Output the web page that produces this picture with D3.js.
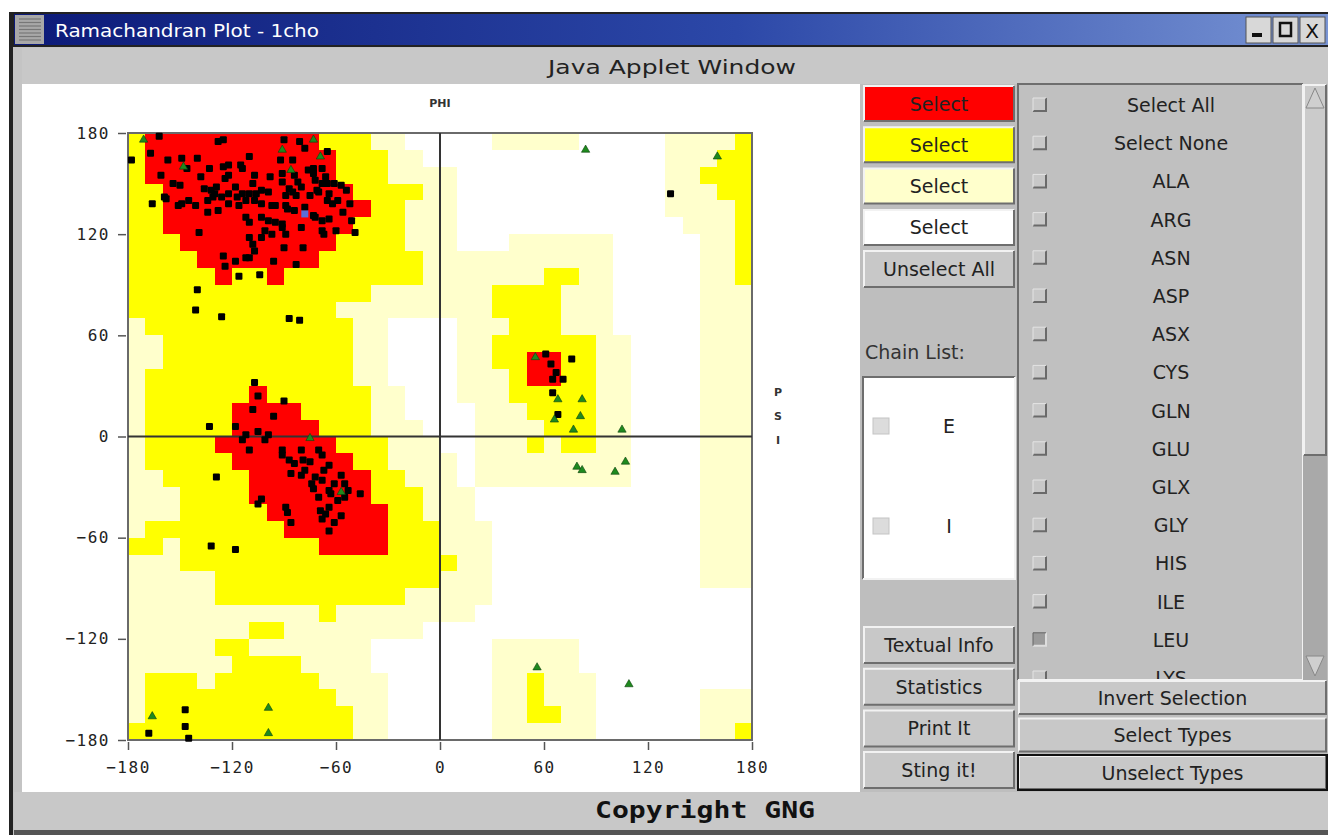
<!DOCTYPE html>
<html>
<head>
<meta charset="utf-8">
<script src="https://cdn.jsdelivr.net/npm/d3@7"></script>
<style>
  body { margin: 0; background: #fff; overflow: hidden; }
  svg { display: block; }
  text { font-family: 'DejaVu Sans', sans-serif; }
</style>
</head>
<body>
<div id="chart"></div>
<script>
// Region map, 10 degree cells. One string per psi row (180 -> -180), one char per phi column (-180 -> 180)
// R = core, Y = allowed, P = generous, W = disallowed
const regionRows = [
  'YRRRRRRRRRRYYYPPWW' + 'WWWPPPPPWWWWWPPPPY',
  'YRRRRRRRRRRRYYYPPW' + 'WWWWWWWWWWWWWPPPYY',
  'YRRRRRRRRRRRYYYPPP' + 'PWWWWWWWWWWWWPPYYY',
  'YYRRRRRRRRRRRYYYYP' + 'PWWWWWWWWWWWWPPPYY',
  'YYRRRRRRRRRRRRYYPP' + 'PWWWWWWWWWWWWPPPPY',
  'YYRRRRRRRRRRRYYYPP' + 'PWWWWWWWWWWWWWPPPY',
  'YYYRRRRRRRRRYYYYPP' + 'PWWWPPPPPPWWWWWPPY',
  'YYYYRRRRRRRYYYYYYP' + 'PPPPPPPPPPWWWWWPPY',
  'YYYYYRYYRYYYYYYYYP' + 'PPPPPPYYPPWWWWWPPY',
  'YYYYYYYYYYYYYYPPPP' + 'PPPYYYYPPPWWWWWPPP',
  'YYYYYYYYYYYYPPPPPP' + 'PPPYYYYPPPWWWWWPPP',
  'PYYYYYYYYYYYYPPWWW' + 'WPPPYYYPPPWWWWWPPP',
  'PPYYYYYYYYYYYPPWWW' + 'WPPYYYYYYPPWWWWPPP',
  'PPYYYYYYYYYYYPPWWW' + 'WPPYYRRYYPPWWWWPPP',
  'PYYYYYYYYYYYYPPWWW' + 'WPPPYRRYYPPWWWWPPP',
  'PYYYYYYRYYYYYYPPWW' + 'WPPPYYYYYPPWWWWPPP',
  'PYYYYYRRRRYYYYPPWW' + 'WWPPPYYYYPPWWWWPPP',
  'PYYYYYRRRRRYYYPPPW' + 'WWPPPPYYYPPWWWWPPP',
  'PYYYYRRRRRRRYYYPPP' + 'WWPPPYPYYPPWWWWPPP',
  'PYYYYYRRRRRRRYYPPP' + 'PWPPPPPPPPPWWWWPPP',
  'PPYYYYYRRRRRRRYYPP' + 'PWPPPPPPPPPWWWWPPP',
  'PPPYYYYRRRRRRRYYYP' + 'PPWWWWWWWWWWWWWPPP',
  'PPPYYYYYRRRRRRRYYP' + 'PPWWWWWWWWWWWWWPPP',
  'PYYYYYYYYRRRRRRYYY' + 'PPPWWWWWWWWWWWWPPP',
  'YYPYYYYYYYYRRRRYYY' + 'PPPWWWWWWWWWWWWPPP',
  'PPPYYYYYYYYYYYYYYY' + 'YPPWWWWWWWWWWWWPPP',
  'PPPPPYYYYYYYYYYYYY' + 'PPPWWWWWWWWWWWWPPP',
  'PPPPPYYYYYYYYYYYPP' + 'PPPWWWWWWWWWWWWWWW',
  'PPPPPPPPPPPYPPPPPP' + 'PPWWWWWWWWWWWWWWWW',
  'PPPPPPPYYPPPPPPPPW' + 'WWWWWWWWWWWWWWWWWW',
  'PPPPPYYPPPPPPPWWWW' + 'WWWPPPPPWWWWWWWWWW',
  'PPPPPPYYYYPPPPWWWW' + 'WWWPPPPPWWWWWWWWWW',
  'PYYYPYYYYYYPPPPWWW' + 'WWWPPYPPPWWWWWWWWW',
  'PYYYYYYYYYYYPPPWWW' + 'WWWPPYPPPWWWWWWPPP',
  'PYYYYYYYYYYYYPPWWW' + 'WWWPPYYPPWWWWWWPPP',
  'YYYYYYYYYYYYYPPWWW' + 'WWWPPPPPPWWWWWWPPY'
]

// residues (non glycine), [phi, psi]
const residuePhiPsi = [
  [-162, 178], [-178, 164], [-167, 168], [-157, 164], [-149, 165], [-140, 165], [-128, 175], [-125, 176],
  [-110, 166], [-90, 176], [-81, 175], [-78, 171], [-65, 169], [-92, 164], [-85, 164], [-76, 158],
  [-73, 159], [-68, 159], [-161, 155], [-154, 150], [-150, 149], [-159, 142], [-158, 141], [-166, 138],
  [-146, 159], [-133, 159], [-125, 160], [-122, 161], [-115, 161], [-114, 159], [-138, 154], [-124, 153],
  [-118, 148], [-107, 155], [-98, 154], [-91, 156], [-91, 151], [-84, 155], [-82, 151], [-80, 148],
  [-73, 156], [-68, 150], [-65, 150], [-61, 150], [-57, 149], [-54, 146], [-70, 145], [-64, 144],
  [-65, 140], [-62, 138], [-59, 140], [-52, 138], [-56, 133], [-64, 129], [-68, 128], [-73, 131],
  [-78, 136], [-84, 134], [-89, 137], [-95, 137], [-103, 138], [-107, 140], [-112, 140], [-116, 137],
  [-122, 138], [-128, 134], [-134, 133], [-136, 147], [-132, 146], [-130, 144], [-126, 142], [-122, 144],
  [-134, 140], [-141, 137], [-151, 137], [-149, 138], [-145, 140], [-129, 148], [-131, 142], [-112, 130],
  [-110, 127], [-103, 130], [-99, 128], [-95, 127], [-91, 126], [-101, 122], [-103, 118], [-97, 120],
  [-91, 124], [-89, 120], [-80, 124], [-72, 130], [-68, 122], [-67, 120], [-60, 122], [-51, 128],
  [-49, 121], [-139, 121], [-110, 118], [-108, 114], [-107, 110], [-110, 106], [-90, 112], [-79, 112],
  [-96, 104], [-83, 102], [-118, 104], [-112, 106], [-125, 107], [-124, 101], [-116, 95], [-104, 96],
  [-103, 146], [-99, 145], [-106, 144], [-114, 144], [-117, 142], [-89, 143], [-87, 147], [-85, 145],
  [-83, 143], [-75, 143], [-71, 146], [-66, 154], [-72, 152], [-108, 150], [-110, 144], [-122, 155],
  [-97, 137], [-88, 135],
  [-140, 87], [-141, 75], [-126, 71], [-87, 70], [-81, 69],
  [-107, 32], [-105, 24], [-90, 21], [-108, 16], [-96, 12], [-133, 6], [-118, 6], [-105, 3],
  [-99, 1], [-112, 1],
  [-129, -24], [-132, -65], [-118, -67], [-114, -2], [-101, -2], [-110, -8], [-91, -11], [-87, -14],
  [-84, -16], [-80, -8], [-79, -14], [-86, -22], [-80, -23], [-75, -15], [-70, -8], [-68, -11],
  [-64, -17], [-67, -20], [-72, -24], [-74, -28], [-73, -31], [-68, -26], [-70, -36], [-64, -32],
  [-61, -28], [-57, -23], [-55, -28], [-53, -32], [-59, -38], [-64, -42], [-69, -44], [-66, -46],
  [-57, -47], [-61, -51], [-68, -49], [-64, -56], [-46, -34], [-103, -37], [-105, -40], [-89, -42],
  [-88, -45], [-86, -51], [-55, -36], [-63, -34], [-78, -20], [-91, -8],
  [-145, -179], [-168, -176], [-147, -172], [-147, -162],
  [133, 144], [61, 49], [64, 43], [76, 46], [67, 38], [65, 34], [71, 34], [65, 26], [68, 13]
]

// glycines, [phi, psi]
const glyPhiPsi = [
  [-171, 176], [-148, 160], [-91, 170], [-73, 176], [-69, 166], [-86, 158], [-166, -166], [-99, -161],
  [-99, -176], [-57, -33], [-75, -1], [84, 170], [160, 166], [55, 47], [68, 22], [82, 22],
  [81, 12], [66, 10], [77, 4], [105, 4], [79, -18], [82, -20], [101, -21], [107, -15],
  [56, -137], [109, -147]
]

// highlighted residue
const pickedPhiPsi = [[-78, 132]]

const angleTicks = [-180, -120, -60, 0, 60, 120, 180]
const colourButtons = ['#ff0000', '#ffff00', '#ffffcc', '#ffffff']
const chainList = ['E', 'I']
const typeList = ['Select All', 'Select None', 'ALA', 'ARG', 'ASN', 'ASP', 'ASX', 'CYS', 'GLN',
  'GLU', 'GLX', 'GLY', 'HIS', 'ILE', 'LEU', 'LYS']
const leftButtons = ['Textual Info', 'Statistics', 'Print It', 'Sting it!']
const typeButtons = ['Invert Selection', 'Select Types', 'Unselect Types']

const regionColour = { R: '#ff0000', Y: '#ffff00', P: '#ffffcc', W: '#ffffff' }

const svg = d3.select('#chart')
  .append('svg')
  .attr('width', 1328)
  .attr('height', 835)

// ---------- window chrome ----------
svg.append('rect').attr('x', 12).attr('y', 12).attr('width', 1316).attr('height', 823).attr('fill', '#c4c4c4')
svg.append('rect').attr('x', 9).attr('y', 12).attr('width', 4).attr('height', 823).attr('fill', '#222')

const grad = svg.append('defs').append('linearGradient').attr('id', 'titlegrad')
grad.append('stop').attr('offset', '0%').attr('stop-color', '#0c1a78')
grad.append('stop').attr('offset', '55%').attr('stop-color', '#2c48a8')
grad.append('stop').attr('offset', '100%').attr('stop-color', '#7894d4')

svg.append('rect').attr('x', 13).attr('y', 12).attr('width', 1315).attr('height', 35).attr('fill', '#222')
svg.append('rect').attr('x', 14).attr('y', 14).attr('width', 1314).attr('height', 31).attr('fill', 'url(#titlegrad)')

// menu icon
svg.append('rect').attr('x', 15).attr('y', 15).attr('width', 29).attr('height', 29).attr('fill', '#a8a8a8')
d3.range(7).forEach(function(i) {
  svg.append('line')
    .attr('x1', 19).attr('x2', 41)
    .attr('y1', 19 + i * 3.5).attr('y2', 19 + i * 3.5)
    .attr('stroke', '#777').attr('stroke-width', 1.2)
})

svg.append('text')
  .attr('x', 55).attr('y', 37)
  .attr('fill', '#fff')
  .style('font-family', "'Liberation Sans Narrow', 'DejaVu Sans Condensed', sans-serif")
  .style('font-size', '18px')
  .attr('textLength', 264).attr('lengthAdjust', 'spacingAndGlyphs')
  .text('Ramachandran Plot - 1cho')

// title buttons
const winButtons = [1246, 1273, 1300]
winButtons.forEach(function(bx, i) {
  svg.append('rect').attr('x', bx).attr('y', 17).attr('width', 25).attr('height', 26)
    .attr('fill', '#d8d8d8').attr('stroke', '#555').attr('stroke-width', 1)
  if (i === 0) {
    svg.append('rect').attr('x', bx + 6).attr('y', 33).attr('width', 10).attr('height', 4).attr('fill', '#111')
  } else if (i === 1) {
    svg.append('rect').attr('x', bx + 7).attr('y', 23).attr('width', 11).attr('height', 13)
      .attr('fill', 'none').attr('stroke', '#111').attr('stroke-width', 2.5)
  } else {
    svg.append('text').attr('x', bx + 12).attr('y', 38).attr('text-anchor', 'middle')
      .style('font-size', '20px').attr('fill', '#111').text('X')
  }
})

// "Java Applet Window" band
svg.append('rect').attr('x', 22).attr('y', 48).attr('width', 1306).attr('height', 36).attr('fill', '#c8c8c8')
svg.append('text')
  .attr('x', 672).attr('y', 74)
  .attr('text-anchor', 'middle')
  .attr('fill', '#222')
  .style('font-size', '20px')
  .attr('textLength', 248).attr('lengthAdjust', 'spacingAndGlyphs')
  .text('Java Applet Window')

// plot panel + right panel
svg.append('rect').attr('x', 22).attr('y', 84).attr('width', 838).attr('height', 708).attr('fill', '#fff')
svg.append('rect').attr('x', 860).attr('y', 84).attr('width', 468).attr('height', 708).attr('fill', '#bebebe')

// bottom band
svg.append('rect').attr('x', 14).attr('y', 792).attr('width', 1314).attr('height', 38).attr('fill', '#c8c8c8')
svg.append('rect').attr('x', 14).attr('y', 830).attr('width', 1314).attr('height', 5).attr('fill', '#555')
svg.append('text')
  .attr('x', 705).attr('y', 818)
  .attr('text-anchor', 'middle')
  .attr('fill', '#111')
  .style('font-family', "'DejaVu Sans Mono', monospace")
  .style('font-weight', 'bold')
  .style('font-size', '23px')
  .attr('textLength', 220).attr('lengthAdjust', 'spacingAndGlyphs')
  .text('Copyright GNG')

// ---------- the plot ----------
const xPositionScale = d3.scaleLinear().domain([-180, 180]).range([128, 752])
const yPositionScale = d3.scaleLinear().domain([-180, 180]).range([740, 133])

const cells = []
regionRows.forEach(function(row, r) {
  row.split('').forEach(function(code, c) {
    cells.push({ phi: -180 + c * 10, psi: 180 - r * 10, code: code })
  })
})

const plot = svg.append('g')

plot.selectAll('.cell')
  .data(cells)
  .enter()
  .append('rect')
  .attr('class', 'cell')
  .attr('x', d => xPositionScale(d.phi))
  .attr('y', d => yPositionScale(d.psi))
  .attr('width', d => xPositionScale(d.phi + 10) - xPositionScale(d.phi) + 0.6)
  .attr('height', d => yPositionScale(d.psi - 10) - yPositionScale(d.psi) + 0.6)
  .attr('fill', d => regionColour[d.code])
  .attr('shape-rendering', 'crispEdges')

// frame and zero lines
plot.append('rect')
  .attr('x', xPositionScale(-180)).attr('y', yPositionScale(180))
  .attr('width', xPositionScale(180) - xPositionScale(-180))
  .attr('height', yPositionScale(-180) - yPositionScale(180))
  .attr('fill', 'none').attr('stroke', '#6a6a6a').attr('stroke-width', 2)

plot.append('line')
  .attr('x1', xPositionScale(0)).attr('x2', xPositionScale(0))
  .attr('y1', yPositionScale(180)).attr('y2', yPositionScale(-180))
  .attr('stroke', '#333').attr('stroke-width', 2)
plot.append('line')
  .attr('x1', xPositionScale(-180)).attr('x2', xPositionScale(180))
  .attr('y1', yPositionScale(0)).attr('y2', yPositionScale(0))
  .attr('stroke', '#333').attr('stroke-width', 2)

// axes
const yAxis = d3.axisLeft(yPositionScale).tickValues(angleTicks).tickSize(8).tickPadding(8)
svg.append('g').attr('class', 'axis y-axis').attr('transform', 'translate(126,0)').call(yAxis)

const xAxis = d3.axisBottom(xPositionScale).tickValues(angleTicks).tickSize(8).tickPadding(12)
svg.append('g').attr('class', 'axis x-axis').attr('transform', 'translate(0,742)').call(xAxis)

svg.selectAll('.axis .domain').remove()
svg.selectAll('.axis line').attr('stroke', '#555').attr('stroke-width', 1.5)
svg.selectAll('.axis text')
  .attr('fill', '#222')
  .style('font-family', "'DejaVu Sans Mono', monospace")
  .style('font-size', '16px')
  .style('letter-spacing', '1.5px')

svg.append('text').attr('x', 440).attr('y', 107).attr('text-anchor', 'middle')
  .style('font-size', '11px').style('font-weight', 'bold').attr('fill', '#333').text('PHI')
const psiLetters = ['P', 'S', 'I']
psiLetters.forEach(function(ch, i) {
  svg.append('text').attr('x', 778).attr('y', 396 + i * 24).attr('text-anchor', 'middle')
    .style('font-size', '11px').style('font-weight', 'bold').attr('fill', '#333').text(ch)
})

// residues
plot.selectAll('.res')
  .data(residuePhiPsi)
  .enter()
  .append('rect')
  .attr('class', 'res')
  .attr('x', d => xPositionScale(d[0]) - 3.5)
  .attr('y', d => yPositionScale(d[1]) - 3.5)
  .attr('width', 7).attr('height', 7)
  .attr('rx', 1)
  .attr('fill', '#000')

plot.selectAll('.picked')
  .data(pickedPhiPsi)
  .enter()
  .append('rect')
  .attr('class', 'picked')
  .attr('x', d => xPositionScale(d[0]) - 3.5)
  .attr('y', d => yPositionScale(d[1]) - 3.5)
  .attr('width', 7).attr('height', 7)
  .attr('fill', '#5b6fd8')

const tri = d3.symbol().type(d3.symbolTriangle).size(30)
plot.selectAll('.gly')
  .data(glyPhiPsi)
  .enter()
  .append('path')
  .attr('class', 'gly')
  .attr('transform', d => 'translate(' + xPositionScale(d[0]) + ',' + yPositionScale(d[1]) + ')')
  .attr('d', tri)
  .attr('fill', '#1e8a1e')
  .attr('stroke', '#0b3f0b')
  .attr('stroke-width', 0.6)

// ---------- controls ----------
function bevel(x0, y0, w, h, fill, raised) {
  const g = svg.append('g')
  g.append('rect').attr('x', x0).attr('y', y0).attr('width', w).attr('height', h).attr('fill', fill)
  const light = raised ? '#f2f2f2' : '#6e6e6e'
  const dark = raised ? '#6e6e6e' : '#f2f2f2'
  g.append('path').attr('d', 'M' + x0 + ',' + (y0 + h) + 'V' + y0 + 'H' + (x0 + w))
    .attr('fill', 'none').attr('stroke', light).attr('stroke-width', 2)
  g.append('path').attr('d', 'M' + x0 + ',' + (y0 + h) + 'H' + (x0 + w) + 'V' + y0)
    .attr('fill', 'none').attr('stroke', dark).attr('stroke-width', 2)
  return g
}

function button(x0, y0, w, h, fill, label) {
  bevel(x0, y0, w, h, fill, true)
  svg.append('text')
    .attr('x', x0 + w / 2).attr('y', y0 + h / 2 + 7)
    .attr('text-anchor', 'middle')
    .attr('fill', '#222')
    .style('font-size', '19px')
    .text(label)
}

colourButtons.forEach(function(c, i) {
  button(864, 86 + i * 41.3, 150, 35, c, 'Select')
})
button(864, 251, 150, 36, '#c8c8c8', 'Unselect All')

svg.append('text').attr('x', 865).attr('y', 359)
  .attr('fill', '#333').style('font-size', '19px').text('Chain List:')

bevel(863, 377, 152, 202, '#ffffff', false)
chainList.forEach(function(ch, i) {
  const cy = 426 + i * 100
  svg.append('rect').attr('x', 873).attr('y', cy - 8).attr('width', 16).attr('height', 16)
    .attr('fill', '#dcdcdc').attr('stroke', '#c4c4c4')
  svg.append('text').attr('x', 949).attr('y', cy + 7).attr('text-anchor', 'middle')
    .attr('fill', '#222').style('font-size', '19px').text(ch)
})

leftButtons.forEach(function(lbl, i) {
  button(864, 627 + i * 41.7, 150, 36, '#c8c8c8', lbl)
})

// residue type list
bevel(1018, 84, 285, 596, '#c0c0c0', false)
const listClip = svg.append('defs').append('clipPath').attr('id', 'listclip')
listClip.append('rect').attr('x', 1019).attr('y', 85).attr('width', 283).attr('height', 594)
const list = svg.append('g').attr('clip-path', 'url(#listclip)')
typeList.forEach(function(name, i) {
  const cy = 105 + i * 38.2
  list.append('rect').attr('x', 1033).attr('y', cy - 7).attr('width', 13).attr('height', 13)
    .attr('fill', name === 'LEU' ? '#9a9a9a' : '#c8c8c8')
  list.append('path').attr('d', 'M1033,' + (cy + 6) + 'H1046V' + (cy - 7))
    .attr('fill', 'none').attr('stroke', name === 'LEU' ? '#ddd' : '#6a6a6a').attr('stroke-width', 2)
  list.append('path').attr('d', 'M1033,' + (cy + 6) + 'V' + (cy - 7) + 'H1046')
    .attr('fill', 'none').attr('stroke', name === 'LEU' ? '#666' : '#e4e4e4').attr('stroke-width', 1)
  list.append('text').attr('x', 1171).attr('y', cy + 7).attr('text-anchor', 'middle')
    .attr('fill', '#222').style('font-size', '19px').text(name)
})

// scrollbar
svg.append('rect').attr('x', 1303).attr('y', 84).attr('width', 24).attr('height', 596).attr('fill', '#a9a9a9')
bevel(1304, 85, 22, 370, '#cbcbcb', true)
svg.append('path').attr('d', 'M1306,108L1315,88L1324,108Z').attr('fill', '#cfcfcf').attr('stroke', '#888')
svg.append('path').attr('d', 'M1306,656L1315,676L1324,656Z').attr('fill', '#cfcfcf').attr('stroke', '#888')

typeButtons.forEach(function(lbl, i) {
  button(1019, 681 + i * 37.5, 307, 33, '#c8c8c8', lbl)
})
svg.append('rect').attr('x', 1018).attr('y', 755).attr('width', 309).attr('height', 35)
  .attr('fill', 'none').attr('stroke', '#111').attr('stroke-width', 2)
</script>
</body>
</html>
